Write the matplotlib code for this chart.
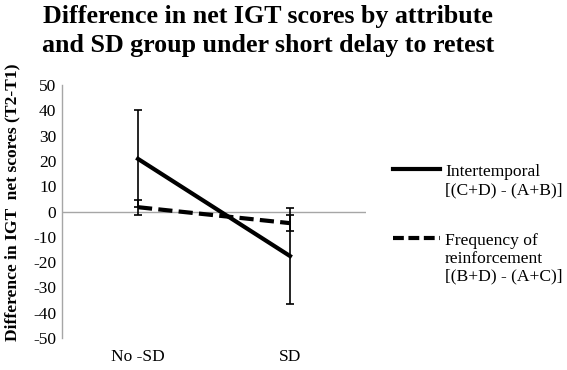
import matplotlib
matplotlib.use("Agg")
import matplotlib.pyplot as plt
from matplotlib.lines import Line2D
from matplotlib.ticker import FuncFormatter

plt.rcParams['font.family'] = ['Liberation Serif', 'DejaVu Serif']

groups = ["No -SD", "SD"]
intertemporal = [20.8, -17.6]
intertemporal_err = [19.2, 19.05]
frequency = [1.7, -4.6]
frequency_err = [3.0, 3.1]
series_labels = ["Intertemporal\n[(C+D) - (A+B)]",
                 "Frequency of\nreinforcement\n[(B+D) - (A+C)]"]
yticks = list(range(-50, 51, 10))

fig = plt.figure(figsize=(5.67, 3.70), dpi=100)
ax = fig.add_axes([62 / 567, 1 - 338 / 370, (366 - 62) / 567, (338 - 85) / 370])

x = list(range(len(groups)))

# zero line acts as the horizontal axis
ax.axhline(0, color="#a6a6a6", lw=1.0, zorder=1)

ax.errorbar(x, intertemporal, yerr=intertemporal_err, color="black", lw=3.0,
            elinewidth=1.2, capsize=3, capthick=1.2, zorder=3)
eb = ax.errorbar(x, frequency, yerr=frequency_err, color="black", lw=3.0,
                 elinewidth=1.2, capsize=3, capthick=1.2, zorder=3)
eb[0].set_dashes([3.4, 1.5])

ax.set_xlim(-0.5, 1.5)
ax.set_ylim(-50, 50)
ax.set_yticks(yticks)
ax.yaxis.set_major_formatter(FuncFormatter(lambda v, p: "%d" % v))
ax.set_xticks(x)
ax.set_xticklabels(groups)
ax.tick_params(axis="both", length=0, labelsize=12.5)
ax.tick_params(axis="x", pad=8)
ax.tick_params(axis="y", pad=4)
for s in ["top", "right", "bottom"]:
    ax.spines[s].set_visible(False)
ax.spines["left"].set_color("#a6a6a6")
ax.spines["left"].set_linewidth(1.0)

ax.set_ylabel("Difference in IGT  net scores (T2-T1)", fontsize=12.6,
              fontweight="bold")
ax.yaxis.set_label_coords(-0.137, 0.538)

fig.text(268 / 567, 1 - 31 / 370,
         "Difference in net IGT scores by attribute\nand SD group under short delay to retest",
         ha="center", va="center", fontsize=18.7, fontweight="bold", linespacing=1.3)

# legend drawn by hand so the handle sits on the first text line
leg_y = [169, 238]
leg_styles = ["-", "--"]
for yy, style, lab in zip(leg_y, leg_styles, series_labels):
    ln = Line2D([393 / 567, 440 / 567], [1 - yy / 370, 1 - yy / 370],
                transform=fig.transFigure, color="black", lw=3.0)
    if style == "--":
        ln.set_dashes([2.6, 1.1])
    fig.add_artist(ln)
    fig.text(445 / 567, 1 - (yy - 5) / 370, lab, ha="left", va="top",
             fontsize=12.6, linespacing=1.16)

plt.savefig("out.png", dpi=100)
